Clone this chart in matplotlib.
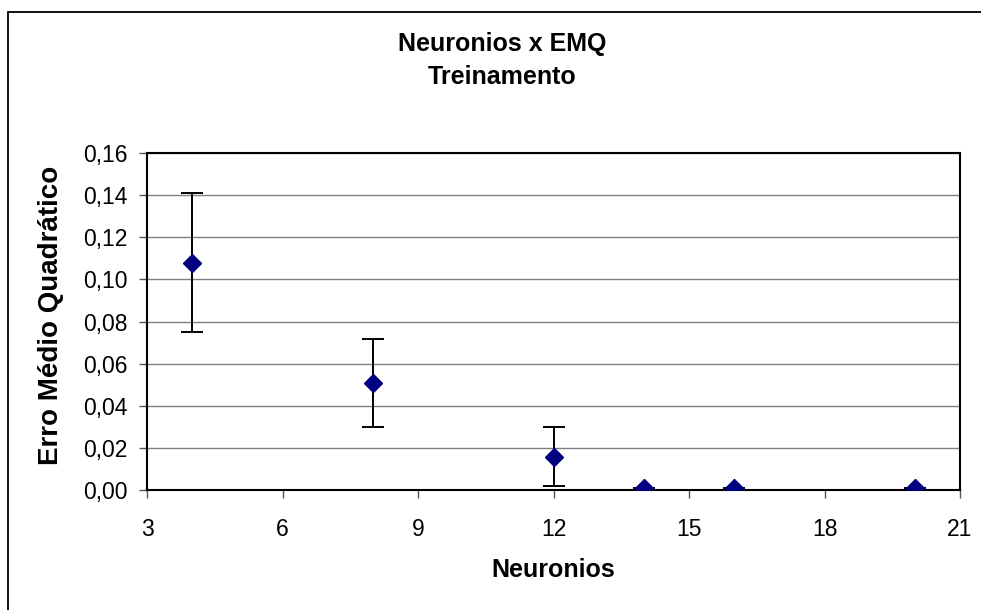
import matplotlib
matplotlib.use('Agg')
import matplotlib.pyplot as plt
from matplotlib.patches import Rectangle
from matplotlib.ticker import FuncFormatter

plt.rcParams['font.family'] = ['Liberation Sans', 'DejaVu Sans']

# data
neuronios = [4, 8, 12, 14, 16, 20]
emq = [0.108, 0.0507, 0.0157, 0.0008, 0.0008, 0.0008]
erro = [0.033, 0.021, 0.014, 0.0, 0.0, 0.0]
x_ticks = [3, 6, 9, 12, 15, 18, 21]
y_ticks = [0.00, 0.02, 0.04, 0.06, 0.08, 0.10, 0.12, 0.14, 0.16]

fig = plt.figure(figsize=(9.81, 6.10), dpi=100)
ax = fig.add_axes([147/981, 1 - 490/610, (960-147)/981, (490-153)/610])

# chart area border (Excel style, runs off the right and bottom edges)
fig.patches.append(Rectangle((8/981, -0.05), 1.1, 1 - 12/610 + 0.05,
                             transform=fig.transFigure, fill=False,
                             edgecolor='black', linewidth=1.3))

ax.errorbar(neuronios, emq, yerr=erro, fmt='none', ecolor='black',
            elinewidth=1.4, capsize=8, capthick=1.4, zorder=3)
ax.plot(neuronios, emq, linestyle='none', marker='D', markersize=9,
        color='#000080', zorder=4)

ax.set_xlim(3, 21)
ax.set_ylim(0, 0.16)
ax.set_xticks(x_ticks)
ax.set_yticks(y_ticks)
ax.yaxis.set_major_formatter(FuncFormatter(lambda v, p: f'{v:.2f}'.replace('.', ',')))
ax.grid(axis='y', color='#808080', linewidth=1)
ax.set_axisbelow(True)
for s in ax.spines.values():
    s.set_linewidth(1.5)
ax.tick_params(axis='both', direction='out', length=6, width=1,
               color='#555555', labelsize=16.5, pad=8)
ax.tick_params(axis='x', pad=14)

fig.text(502/981, 1 - 44/610, 'Neuronios x EMQ', ha='center', va='center',
         fontsize=18, fontweight='bold')
fig.text(502/981, 1 - 77/610, 'Treinamento', ha='center', va='center',
         fontsize=18, fontweight='bold')
fig.text(553/981, 1 - 570/610, 'Neuronios', ha='center', va='center',
         fontsize=18, fontweight='bold')
fig.text(51/981, 1 - 315/610, 'Erro Médio Quadrático', ha='center', va='center',
         rotation=90, fontsize=20, fontweight='bold')

fig.savefig('out.png', dpi=100, facecolor='white')
